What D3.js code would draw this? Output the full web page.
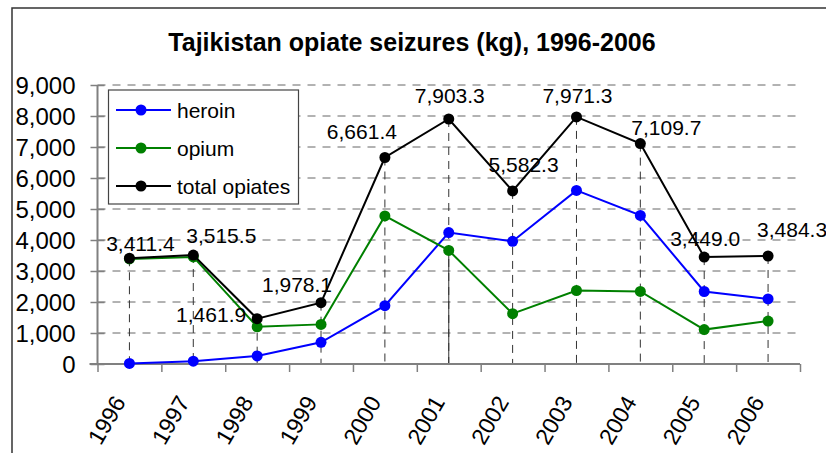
<!DOCTYPE html>
<html><head><meta charset="utf-8">
<script src="https://cdn.jsdelivr.net/npm/d3@7"></script>
<style>body{margin:0;background:#fff;overflow:hidden}</style></head>
<body>
<svg id="c" width="826" height="453"></svg>
<script>
const years = ["1996","1997","1998","1999","2000","2001","2002","2003","2004","2005","2006"];
const heroin = [20, 90, 260, 700, 1883, 4239, 3958, 5600, 4794, 2339, 2099];
const opium = [3390, 3455, 1202, 1278, 4778, 3664, 1624, 2371, 2340, 1110, 1385];
const total = [3411.4, 3515.5, 1461.9, 1978.1, 6661.4, 7903.3, 5582.3, 7971.3, 7109.7, 3449.0, 3484.3];
const yTicks = [0,1000,2000,3000,4000,5000,6000,7000,8000,9000];
const seriesNames = ["heroin","opium","total opiates"];
const seriesColors = ["#0000FF","#008000","#000000"];
// pixel nudges for the total-opiates value labels (centre x, baseline y relative to point)
const labelNudge = [[11,-7],[28,-12],[-46,3],[-24,-11],[-23,-18],[1,-16],[11,-19],[1,-14],[26,-9],[1,-11],[24,-19]];

const FONT = "'Liberation Sans', Arial, Helvetica, sans-serif";
const svg = d3.select("#c");
const pL = 97.5, pR = 800, pT = 85, pB = 364;

const x = d3.scaleBand().domain(years).range([pL, pR]).padding(0);
const cx = d => x(d) + x.bandwidth()/2;
const y = d3.scaleLinear().domain([0, 9000]).range([pB, pT]);

// frame
svg.append("path").attr("d", `M12,453 L12,8 L826,8`).attr("fill","none")
  .attr("stroke","#333").attr("stroke-width",1.5);

// title
svg.append("text").attr("x", 412).attr("y", 51).attr("text-anchor","middle")
  .attr("font-family", FONT).attr("font-weight","bold").attr("font-size", 25)
  .attr("fill","#000").text("Tajikistan opiate seizures (kg), 1996-2006");

// gridlines
svg.append("g").selectAll("line").data(yTicks.filter(t => t > 0)).join("line")
  .attr("x1", pL).attr("x2", pR).attr("y1", d => y(d)).attr("y2", d => y(d))
  .attr("stroke", "#666").attr("stroke-width", 1).attr("stroke-dasharray", "8,7");

// drop lines from total points
svg.append("g").selectAll("line").data(years).join("line")
  .attr("x1", d => cx(d)).attr("x2", d => cx(d))
  .attr("y1", (d,i) => y(total[i])).attr("y2", pB)
  .attr("stroke", "#333").attr("stroke-width", 1).attr("stroke-dasharray", "8,6");
// 2001 opium drop line appears solid
svg.append("line").attr("x1", cx("2001")).attr("x2", cx("2001"))
  .attr("y1", y(opium[years.indexOf("2001")])).attr("y2", pB)
  .attr("stroke", "#333").attr("stroke-width", 1);

// y axis
const yAxis = d3.axisLeft(y).tickValues(yTicks).tickSize(7).tickFormat(d3.format(","));
const gy = svg.append("g").attr("transform", `translate(${pL},0)`).call(yAxis);
gy.select(".domain").attr("stroke","#808080").attr("stroke-width",2).attr("d", `M0,${pT}V${pB}`);
gy.selectAll(".tick line").attr("stroke","#808080").attr("stroke-width",1.5).attr("x1", 7).attr("x2",-7);
gy.selectAll(".tick text").attr("font-family", FONT).attr("font-size", 24).attr("fill","#000")
  .attr("x", -22).attr("dy","0.34em");

// x axis
const xb = d3.scaleLinear().domain([0, years.length]).range([pL, pR]);
const gx = svg.append("g").attr("transform", `translate(0,${pB})`)
  .call(d3.axisBottom(xb).tickValues(d3.range(0, years.length+1)).tickSize(8).tickFormat(""));
gx.select(".domain").attr("stroke","#808080").attr("stroke-width",2).attr("d", `M${pL-8},0H${pR}`);
gx.selectAll(".tick line").attr("stroke","#808080").attr("stroke-width",1.5);

svg.append("g").selectAll("text").data(years).join("text")
  .attr("transform", d => `translate(${cx(d)-3},402) rotate(-60)`)
  .attr("text-anchor","end").attr("font-family", FONT).attr("font-size", 23).attr("fill","#000")
  .text(d => d);

// series
const series = [heroin, opium, total];
const line = d3.line().x((d,i) => cx(years[i])).y(d => y(d));
series.forEach((s, k) => {
  svg.append("path").datum(s).attr("d", line).attr("fill","none")
    .attr("stroke", seriesColors[k]).attr("stroke-width", 2);
  svg.append("g").selectAll("circle").data(s).join("circle")
    .attr("cx", (d,i) => cx(years[i])).attr("cy", d => y(d)).attr("r", 5.5)
    .attr("fill", seriesColors[k]);
});

// value labels
const fmt = d3.format(",.1f");
svg.append("g").selectAll("text").data(total).join("text")
  .attr("x", (d,i) => cx(years[i]) + labelNudge[i][0])
  .attr("y", (d,i) => y(d) + labelNudge[i][1])
  .attr("text-anchor","middle").attr("font-family", FONT).attr("font-size", 21).attr("fill","#000")
  .text(d => fmt(d));

// legend
const lg = svg.append("g");
lg.append("rect").attr("x",108.5).attr("y",90).attr("width",190).attr("height",114)
  .attr("fill","#fff").attr("stroke","#444").attr("stroke-width",1.2);
seriesNames.forEach((n,k) => {
  const ly = 110 + k*38;
  lg.append("line").attr("x1",116).attr("x2",171).attr("y1",ly).attr("y2",ly)
    .attr("stroke", seriesColors[k]).attr("stroke-width",2);
  lg.append("circle").attr("cx",141).attr("cy",ly).attr("r",5.5).attr("fill",seriesColors[k]);
  lg.append("text").attr("x",177).attr("y",ly).attr("dy","0.36em")
    .attr("font-family", FONT).attr("font-size", 21).attr("fill","#000").text(n);
});
</script>
</body></html>
